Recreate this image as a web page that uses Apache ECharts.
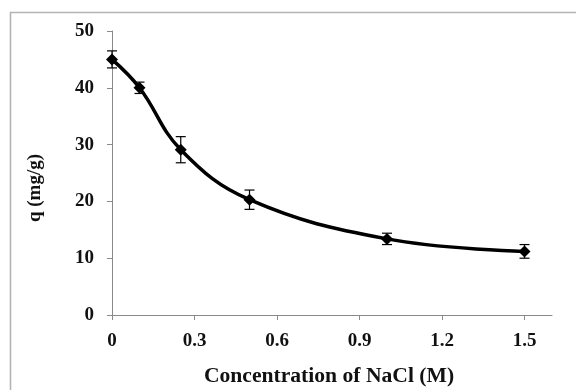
<!DOCTYPE html>
<html>
<head>
<meta charset="utf-8">
<script src="https://cdn.jsdelivr.net/npm/echarts@6/dist/echarts.min.js"></script>
<style>
  html, body { margin: 0; padding: 0; background: #fff; }
  #chart { width: 576px; height: 390px; }
</style>
</head>
<body>
<div id="chart"></div>
<script>
// NaCl concentration (M) and adsorption capacity q (mg/g) with standard deviations
var concentration = [0, 0.1, 0.25, 0.5, 1.0, 1.5];
var qValues = [45.0, 40.0, 29.1, 20.3, 13.4, 11.2];
var qErrors = [1.5, 1.0, 2.3, 1.7, 1.0, 1.2];
var xTicks = [0, 0.3, 0.6, 0.9, 1.2, 1.5];

var serif = '"Liberation Serif", "Times New Roman", serif';
var axisGray = '#8a8a8a';

var points = concentration.map(function (c, i) { return [c, qValues[i]]; });
var bars = concentration.map(function (c, i) { return [c, qValues[i] - qErrors[i], qValues[i] + qErrors[i]]; });

var chart = echarts.init(document.getElementById('chart'), null, { renderer: 'canvas' });

chart.setOption({
  animation: false,
  backgroundColor: '#fff',
  grid: { left: 112, top: 31, right: 24, bottom: 75, containLabel: false },
  graphic: [
    {
      type: 'polyline',
      shape: { points: [[10.5, 390], [10.5, 12.5], [576, 12.5]] },
      style: { stroke: '#b4b4b4', lineWidth: 1.6, fill: null },
      silent: true
    },
    {
      type: 'text',
      x: 329, y: 377, scaleX: 1.08,
      style: { text: 'Concentration of NaCl (M)', font: 'bold 20px ' + serif, fill: '#111', align: 'center', verticalAlign: 'middle' }
    },
    {
      type: 'text',
      x: 35, y: 188, rotation: Math.PI / 2,
      style: { text: 'q (mg/g)', font: 'bold 19px ' + serif, fill: '#111', align: 'center', verticalAlign: 'middle' }
    }
  ],
  xAxis: {
    type: 'value',
    min: 0, max: 1.6, interval: 0.3,
    axisLine: { show: true, lineStyle: { color: axisGray, width: 1 } },
    axisTick: { show: true, customValues: xTicks, length: 5, lineStyle: { color: axisGray } },
    axisLabel: {
      customValues: xTicks,
      margin: 17,
      color: '#111',
      fontFamily: serif, fontWeight: 'bold', fontSize: 19,
      formatter: function (v) { return String(+v.toFixed(1)); }
    },
    splitLine: { show: false }
  },
  yAxis: {
    type: 'value',
    min: 0, max: 50, interval: 10,
    axisLine: { show: true, lineStyle: { color: axisGray, width: 1 } },
    axisTick: { show: true, length: 5, lineStyle: { color: axisGray } },
    axisLabel: {
      margin: 18,
      color: '#111',
      fontFamily: serif, fontWeight: 'bold', fontSize: 19
    },
    splitLine: { show: false }
  },
  series: [
    {
      type: 'line',
      data: points,
      smooth: 0.4,
      symbol: 'diamond',
      symbolSize: 12,
      itemStyle: { color: '#000' },
      lineStyle: { color: '#000', width: 3.5 },
      z: 3
    },
    {
      type: 'custom',
      data: bars,
      z: 4,
      renderItem: function (params, api) {
        var x = api.value(0);
        var lo = api.coord([x, api.value(1)]);
        var hi = api.coord([x, api.value(2)]);
        var half = 5;
        var st = { stroke: '#000', lineWidth: 1.2 };
        return {
          type: 'group',
          children: [
            { type: 'line', shape: { x1: lo[0], y1: lo[1], x2: hi[0], y2: hi[1] }, style: st },
            { type: 'line', shape: { x1: hi[0] - half, y1: hi[1], x2: hi[0] + half, y2: hi[1] }, style: st },
            { type: 'line', shape: { x1: lo[0] - half, y1: lo[1], x2: lo[0] + half, y2: lo[1] }, style: st }
          ]
        };
      }
    }
  ]
});
</script>
</body>
</html>
